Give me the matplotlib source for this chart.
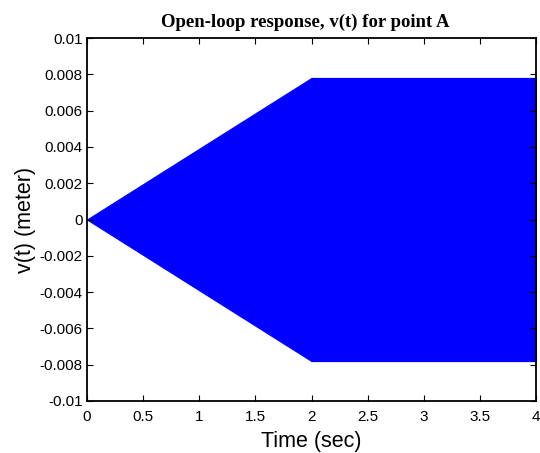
import matplotlib
matplotlib.use("Agg")
import matplotlib.pyplot as plt

# Envelope of the (densely oscillating) response
time_pts = [0.0, 2.0, 4.0]
upper_env = [0.0, 0.0078, 0.0078]
lower_env = [0.0, -0.0078, -0.0078]

x_ticks = [0, 0.5, 1, 1.5, 2, 2.5, 3, 3.5, 4]
x_tick_labels = ["0", "0.5", "1", "1.5", "2", "2.5", "3", "3.5", "4"]
y_ticks = [0.01, 0.008, 0.006, 0.004, 0.002, 0, -0.002, -0.004, -0.006, -0.008, -0.01]
y_tick_labels = ["0.01", "0.008", "0.006", "0.004", "0.002", "0",
                 "-0.002", "-0.004", "-0.006", "-0.008", "-0.01"]

fig = plt.figure(figsize=(5.4, 4.53), dpi=100)
ax = fig.add_axes([87/540, 1 - 401/453, (536 - 87)/540, (401 - 38)/453])

ax.fill_between(time_pts, lower_env, upper_env, color=(0, 0, 1), linewidth=0.8,
                edgecolor=(0, 0, 1))

ax.set_xlim(0, 4)
ax.set_ylim(-0.01, 0.01)
ax.set_xticks(x_ticks)
ax.set_xticklabels(x_tick_labels)
ax.set_yticks(y_ticks)
ax.set_yticklabels(y_tick_labels)

for s in ax.spines.values():
    s.set_linewidth(1.3)
ax.tick_params(direction="in", length=4, width=0.8, top=True, right=True,
               labelsize=11, pad=3)
ax.tick_params(axis="x", pad=6.5)
for lab in ax.get_xticklabels() + ax.get_yticklabels():
    lab.set_family("Liberation Sans")

ax.set_xlabel("Time (sec)", fontsize=15.5, family="Liberation Sans", labelpad=5)
ax.set_ylabel("v(t) (meter)", fontsize=15.5, family="Liberation Sans", labelpad=3)
ax.set_title("Open-loop response, v(t) for point A", fontsize=13.5,
             family="Liberation Serif", fontweight="bold", pad=8, x=0.485)

fig.savefig("out.png", dpi=100)
